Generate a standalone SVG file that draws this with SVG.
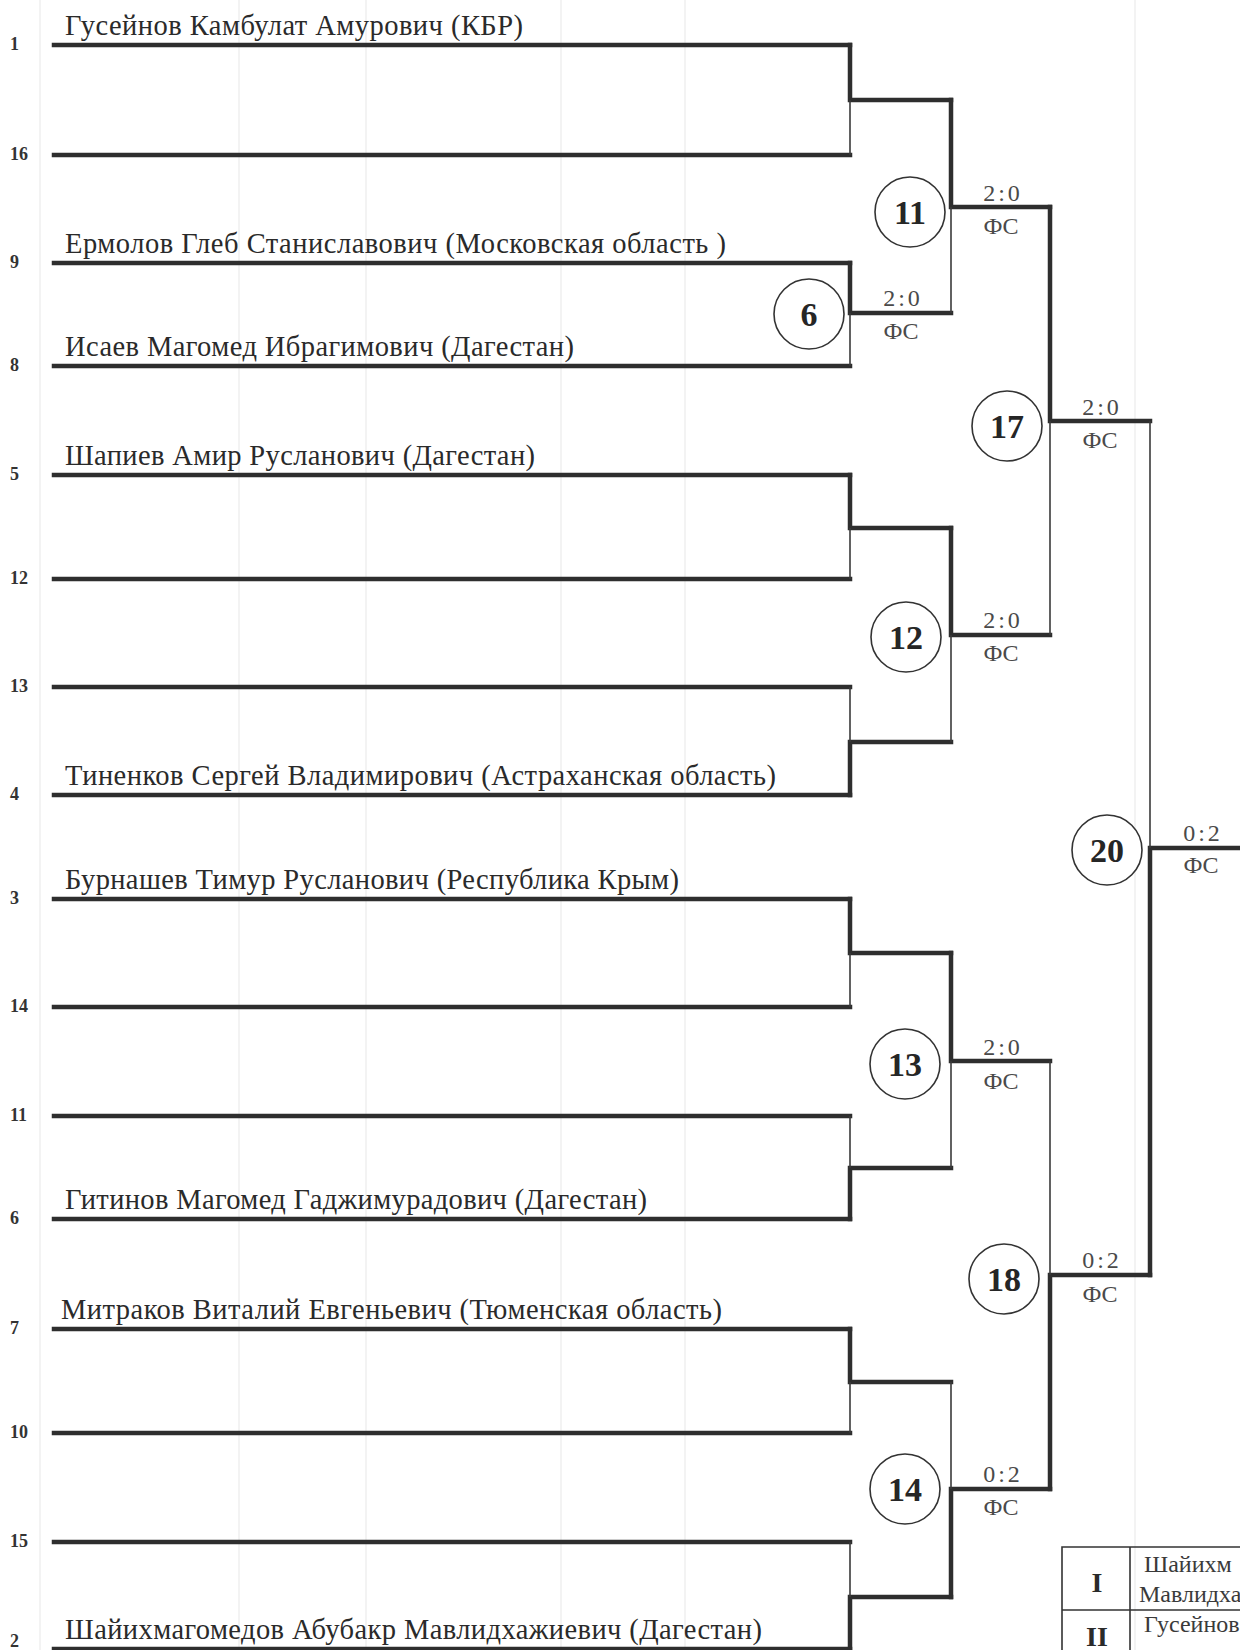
<svg xmlns="http://www.w3.org/2000/svg" width="1240" height="1650" viewBox="0 0 1240 1650">
<style>
.bg{stroke:#f3f3f3;stroke-width:2;fill:none}
.slot{stroke:#2e2e2e;stroke-width:4.5;fill:none;stroke-linecap:square}
.thick{stroke:#2e2e2e;stroke-width:4.5;fill:none;stroke-linecap:square;stroke-linejoin:miter}
.thin{stroke:#3a3a3a;stroke-width:1.6;fill:none}
.name{font-family:"Liberation Serif",serif;font-size:28.5px;fill:#2a2a2a}
.seed{font-family:"Liberation Serif",serif;font-size:18px;font-weight:bold;fill:#333}
.circ{fill:#fff;stroke:#333;stroke-width:1.6}
.num{font-family:"Liberation Serif",serif;font-size:34px;font-weight:bold;text-anchor:middle;fill:#262626}
.score{font-family:"Liberation Serif",serif;font-size:24px;text-anchor:middle;letter-spacing:3px;fill:#4a4a4a}
.fs{font-family:"Liberation Serif",serif;font-size:24px;text-anchor:middle;fill:#4a4a4a}
.tbl{fill:none;stroke:#333;stroke-width:1.6}
.roman{font-family:"Liberation Serif",serif;font-size:28px;font-weight:bold;text-anchor:middle;fill:#2a2a2a}
.tname{font-family:"Liberation Serif",serif;font-size:24px;fill:#3a3a3a}
</style>
<rect width="1240" height="1650" fill="#fff"/>
<g id="background">
<path class="bg" d="M40,0V1650M239,0V1650M366,0V1650M561,0V1650M685,0V1650M1135,0V1650"/>
</g>
<g id="players">
<g id="p1"><text class="seed" x="10" y="50">1</text><path class="slot" d="M54,45H850"/><text class="name" x="65" y="35" textLength="458">Гусейнов Камбулат Амурович (КБР)</text></g>
<g id="p16"><text class="seed" x="10" y="160">16</text><path class="slot" d="M54,155H850"/></g>
<g id="p9"><text class="seed" x="10" y="268">9</text><path class="slot" d="M54,263H850"/><text class="name" x="65" y="253" textLength="661">Ермолов Глеб Станиславович (Московская область )</text></g>
<g id="p8"><text class="seed" x="10" y="371">8</text><path class="slot" d="M54,366H850"/><text class="name" x="65" y="356" textLength="509">Исаев Магомед Ибрагимович (Дагестан)</text></g>
<g id="p5"><text class="seed" x="10" y="480">5</text><path class="slot" d="M54,475H850"/><text class="name" x="65" y="465" textLength="470">Шапиев Амир Русланович (Дагестан)</text></g>
<g id="p12"><text class="seed" x="10" y="584">12</text><path class="slot" d="M54,579H850"/></g>
<g id="p13"><text class="seed" x="10" y="692">13</text><path class="slot" d="M54,687H850"/></g>
<g id="p4"><text class="seed" x="10" y="800">4</text><path class="slot" d="M54,795H850"/><text class="name" x="65" y="785" textLength="711">Тиненков Сергей Владимирович (Астраханская область)</text></g>
<g id="p3"><text class="seed" x="10" y="904">3</text><path class="slot" d="M54,899H850"/><text class="name" x="65" y="889" textLength="614">Бурнашев Тимур Русланович (Республика Крым)</text></g>
<g id="p14"><text class="seed" x="10" y="1012">14</text><path class="slot" d="M54,1007H850"/></g>
<g id="p11"><text class="seed" x="10" y="1121">11</text><path class="slot" d="M54,1116H850"/></g>
<g id="p6"><text class="seed" x="10" y="1224">6</text><path class="slot" d="M54,1219H850"/><text class="name" x="65" y="1209" textLength="582">Гитинов Магомед Гаджимурадович (Дагестан)</text></g>
<g id="p7"><text class="seed" x="10" y="1334">7</text><path class="slot" d="M54,1329H850"/><text class="name" x="61" y="1319" textLength="661">Митраков Виталий Евгеньевич (Тюменская область)</text></g>
<g id="p10"><text class="seed" x="10" y="1438">10</text><path class="slot" d="M54,1433H850"/></g>
<g id="p15"><text class="seed" x="10" y="1547">15</text><path class="slot" d="M54,1542H850"/></g>
<g id="p2"><text class="seed" x="10" y="1647">2</text><path class="slot" d="M54,1649H850"/><text class="name" x="65" y="1639" textLength="697">Шайихмагомедов Абубакр Мавлидхажиевич (Дагестан)</text></g>
</g>
<g id="connectors">
<path class="thick" d="M850,45V100H951"/><path class="thin" d="M850,100V155"/>
<path class="thick" d="M850,263V313H951"/><path class="thin" d="M850,313V366"/>
<path class="thick" d="M850,475V528H951"/><path class="thin" d="M850,528V579"/>
<path class="thick" d="M850,795V742H951"/><path class="thin" d="M850,687V742"/>
<path class="thick" d="M850,899V953H951"/><path class="thin" d="M850,953V1007"/>
<path class="thick" d="M850,1219V1168H951"/><path class="thin" d="M850,1116V1168"/>
<path class="thick" d="M850,1329V1382H951"/><path class="thin" d="M850,1382V1433"/>
<path class="thick" d="M850,1649V1597H951"/><path class="thin" d="M850,1542V1597"/>
<path class="thick" d="M951,100V207H1050"/><path class="thin" d="M951,207V313"/>
<path class="thick" d="M951,528V635H1050"/><path class="thin" d="M951,635V742"/>
<path class="thick" d="M951,953V1061H1050"/><path class="thin" d="M951,1061V1168"/>
<path class="thick" d="M951,1597V1489H1050"/><path class="thin" d="M951,1382V1489"/>
<path class="thick" d="M1050,207V421H1150"/><path class="thin" d="M1050,421V635"/>
<path class="thick" d="M1050,1489V1275H1150"/><path class="thin" d="M1050,1061V1275"/>
<path class="thick" d="M1150,1275V848H1245"/><path class="thin" d="M1150,421V848"/>
</g>
<g id="m6"><circle class="circ" cx="809" cy="314" r="35"/><text class="num" x="809" y="326">6</text><text class="score" x="903" y="306">2:0</text><text class="fs" x="901" y="339">ФС</text></g>
<g id="m11"><circle class="circ" cx="910" cy="212" r="35"/><text class="num" x="910" y="224">11</text><text class="score" x="1003" y="201">2:0</text><text class="fs" x="1001" y="234">ФС</text></g>
<g id="m12"><circle class="circ" cx="906" cy="637" r="35"/><text class="num" x="906" y="649">12</text><text class="score" x="1003" y="628">2:0</text><text class="fs" x="1001" y="661">ФС</text></g>
<g id="m13"><circle class="circ" cx="905" cy="1064" r="35"/><text class="num" x="905" y="1076">13</text><text class="score" x="1003" y="1055">2:0</text><text class="fs" x="1001" y="1089">ФС</text></g>
<g id="m14"><circle class="circ" cx="905" cy="1489" r="35"/><text class="num" x="905" y="1501">14</text><text class="score" x="1003" y="1482">0:2</text><text class="fs" x="1001" y="1515">ФС</text></g>
<g id="m17"><circle class="circ" cx="1007" cy="426" r="35"/><text class="num" x="1007" y="438">17</text><text class="score" x="1102" y="415">2:0</text><text class="fs" x="1100" y="448">ФС</text></g>
<g id="m18"><circle class="circ" cx="1004" cy="1279" r="35"/><text class="num" x="1004" y="1291">18</text><text class="score" x="1102" y="1268">0:2</text><text class="fs" x="1100" y="1302">ФС</text></g>
<g id="m20"><circle class="circ" cx="1107" cy="850" r="35"/><text class="num" x="1107" y="862">20</text><text class="score" x="1203" y="841">0:2</text><text class="fs" x="1201" y="873">ФС</text></g>
<g id="results">
<path class="tbl" d="M1250,1547H1062V1660M1130,1547V1660M1062,1610H1250"/>
<text class="roman" x="1097" y="1592">I</text>
<text class="roman" x="1097" y="1646">II</text>
<text class="tname" x="1144" y="1572">Шайихм</text>
<text class="tname" x="1139" y="1602">Мавлидха</text>
<text class="tname" x="1144" y="1632">Гусейнов</text>
</g>
</svg>
